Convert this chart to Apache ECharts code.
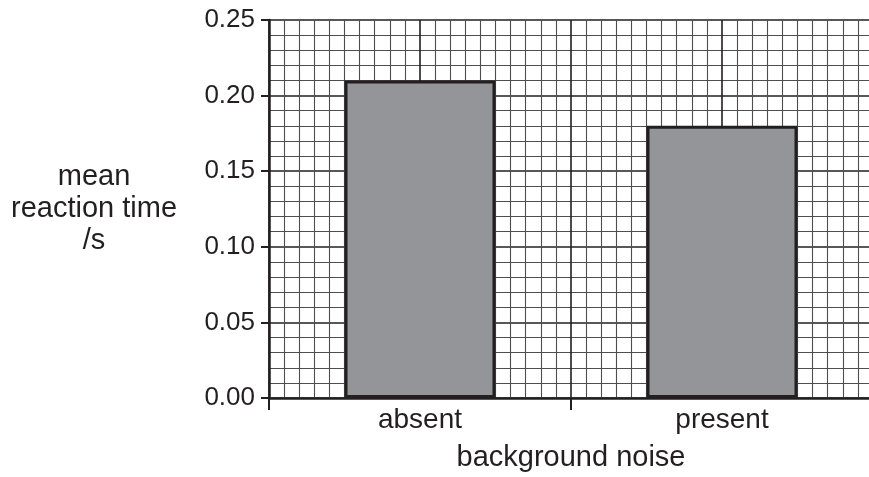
<!DOCTYPE html>
<html>
<head>
<meta charset="utf-8">
<script src="https://cdn.jsdelivr.net/npm/echarts@6/dist/echarts.min.js"></script>
<style>
html,body{margin:0;padding:0;background:#fff;}
#chart{width:869px;height:477px;}
</style>
</head>
<body>
<div id="chart"></div>
<script>
const categories = ['absent', 'present'];
const meanReactionTime = [0.21, 0.18];
const yTicks = [0, 0.05, 0.10, 0.15, 0.20, 0.25];
const yTitle = 'mean\nreaction time\n/s';
const xTitle = 'background noise';

const ink = '#231f20';
const font = '"Liberation Sans", Arial, Helvetica, sans-serif';

const chart = echarts.init(document.getElementById('chart'), null, {renderer: 'canvas'});
chart.setOption({
  animation: false,
  backgroundColor: '#ffffff',
  grid: {left: 269, width: 604, top: 20, height: 378, containLabel: false, outerBoundsMode: 'none'},
  xAxis: [{
    type: 'category',
    data: categories,
    boundaryGap: true,
    position: 'bottom',
    axisLine: {show: true, lineStyle: {color: ink, width: 2.5}},
    axisTick: {show: true, length: 12, lineStyle: {color: ink, width: 2}},
    axisLabel: {color: ink, fontFamily: font, fontSize: 28, margin: 8},
    splitLine: {show: false},
    name: xTitle,
    nameLocation: 'middle',
    nameGap: 45,
    nameTextStyle: {color: ink, fontFamily: font, fontSize: 29, verticalAlign: 'top'}
  }, {
    type: 'value',
    min: 0, max: 40, interval: 10,
    position: 'top',
    axisLine: {show: false},
    axisTick: {show: false},
    axisLabel: {show: false},
    splitLine: {show: true, lineStyle: {color: ink, width: 1.6}},
    minorTick: {show: false, splitNumber: 10},
    minorSplitLine: {show: true, lineStyle: {color: '#4d4e50', width: 1.1}}
  }],
  yAxis: {
    type: 'value',
    min: yTicks[0],
    max: yTicks[yTicks.length - 1],
    interval: 0.05,
    axisLine: {show: true, lineStyle: {color: ink, width: 2.5}},
    axisTick: {show: true, length: 8, lineStyle: {color: ink, width: 2}},
    axisLabel: {
      color: ink, fontFamily: font, fontSize: 26, margin: 14,
      formatter: v => v.toFixed(2)
    },
    splitLine: {show: true, lineStyle: {color: ink, width: 1.6}},
    minorTick: {show: false, splitNumber: 5},
    minorSplitLine: {show: true, lineStyle: {color: '#4d4e50', width: 1.1}},
    name: yTitle,
    nameLocation: 'middle',
    nameRotate: 0,
    nameGap: 175,
    nameTextStyle: {color: ink, fontFamily: font, fontSize: 29, align: 'center', verticalAlign: 'middle', lineHeight: 32}
  },
  series: [{
    type: 'bar',
    xAxisIndex: 0,
    data: meanReactionTime,
    barWidth: '50%',
    z: 3,
    itemStyle: {color: '#939598', borderColor: ink, borderWidth: 3}
  }]
});
</script>
</body>
</html>
